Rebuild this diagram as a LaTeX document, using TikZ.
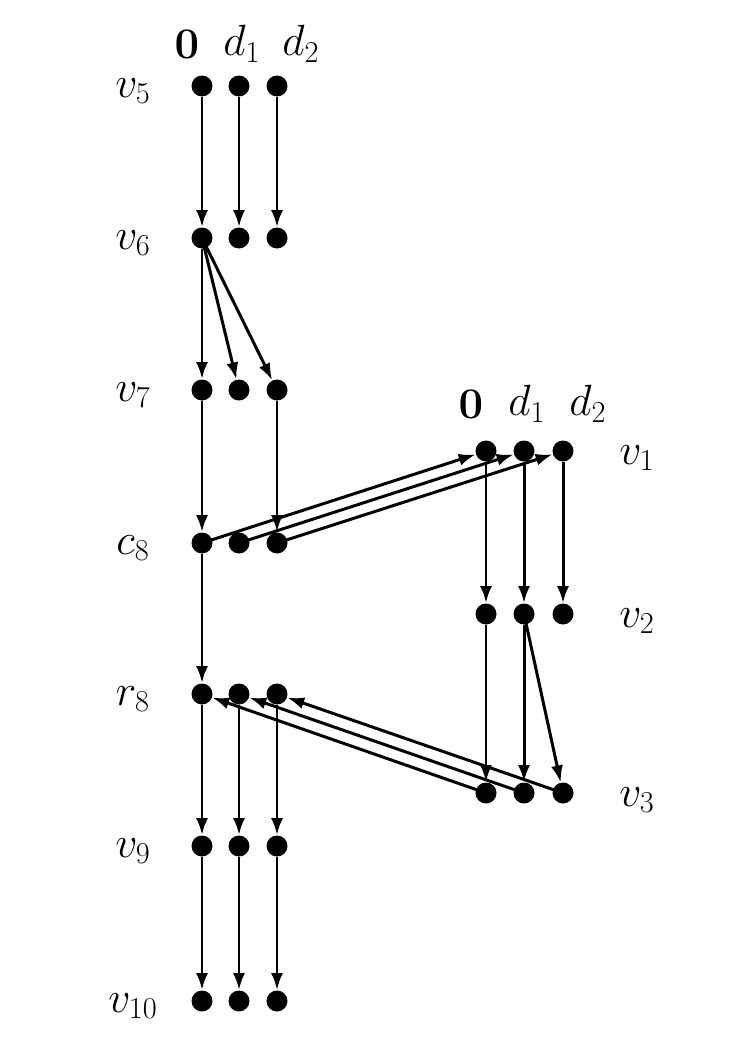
\documentclass[tikz,border=0pt]{standalone}
\usetikzlibrary{arrows.meta}
\begin{document}
\begin{tikzpicture}[x=0.02cm,y=-0.02cm,
    dot/.style={circle,fill=black,inner sep=0pt,minimum size=0.42cm},
    lbl/.style={font=\fontsize{23}{27}\selectfont},
    edge/.style={-{Latex[length=0.34cm,width=0.24cm]},line width=1.7pt}]
  \useasboundingbox (0,0) rectangle (747,1041);
  % left block
  \foreach \r/\y/\t in {5/86/v_5,6/238/v_6,7/390/v_7,c/543/c_8,r/694/r_8,9/846/v_9,10/1001/v_{10}}{
    \node[lbl] (L\r) at (133,\y+5) {$\t$};
    \foreach \c/\x in {0/202,1/239,2/277}
      \node[dot] (n\r\c) at (\x,\y) {};
  }
  \node[lbl] at (187,44) {$\mathbf{0}$};
  \node[lbl] at (242,44) {$d_1$};
  \node[lbl] at (301,44) {$d_2$};
  % right block
  \foreach \r/\y/\t in {1/451/v_1,2/614/v_2,3/793/v_3}{
    \node[lbl] (R\r) at (637,\y+7) {$\t$};
    \foreach \c/\x in {0/486,1/524,2/563}
      \node[dot] (m\r\c) at (\x,\y) {};
  }
  \node[lbl] at (471,404) {$\mathbf{0}$};
  \node[lbl] at (527,404) {$d_1$};
  \node[lbl] at (588,404) {$d_2$};
  % edges
  \foreach \c in {0,1,2}{
    \draw[edge] (n5\c) -- (n6\c);
    \draw[edge] (nc\c.center) -- (m1\c);
    \draw[edge] (m1\c) -- (m2\c);
    \draw[edge] (m3\c.center) -- (nr\c);
    \draw[edge] (nr\c) -- (n9\c);
    \draw[edge] (n9\c) -- (n10\c);
  }
  \draw[edge] (n60) -- (n70);
  \draw[edge] (n60.center) -- (n71);
  \draw[edge] (n60.center) -- (n72);
  \draw[edge] (n70) -- (nc0);
  \draw[edge] (n72) -- (nc2);
  \draw[edge] (nc0) -- (nr0);
  \draw[edge] (m20) -- (m30);
  \draw[edge] (m21) -- (m31);
  \draw[edge] (m21.center) -- (m32);
\end{tikzpicture}
\end{document}
